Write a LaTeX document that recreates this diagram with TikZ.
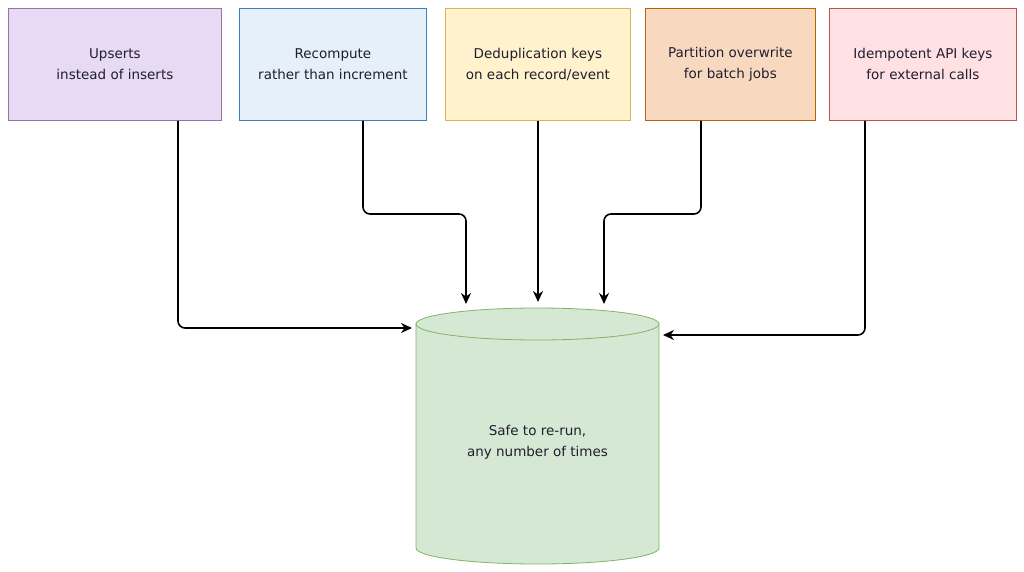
\documentclass[tikz,border=0pt]{standalone}
\usepackage{fontspec}
\setmainfont{DejaVu Sans}
\usetikzlibrary{arrows.meta}
\definecolor{txt}{HTML}{1F1F2E}
\definecolor{d1}{HTML}{9673A6}\definecolor{f1}{HTML}{E8DAF5}
\definecolor{d2}{HTML}{3F7EBF}\definecolor{f2}{HTML}{E6F0FA}
\definecolor{d3}{HTML}{D6B656}\definecolor{f3}{HTML}{FFF2CC}
\definecolor{d4}{HTML}{B46504}\definecolor{f4}{HTML}{F8D9C0}
\definecolor{d5}{HTML}{B85450}\definecolor{f5}{HTML}{FFE0E3}
\definecolor{dc}{HTML}{82B366}\definecolor{fc}{HTML}{D5E8D4}
\begin{document}
\begin{tikzpicture}[x=1pt,y=-1pt,
  box/.style={draw=#1, line width=0.8pt, minimum height=112pt, inner sep=0pt, align=center, font=\fontsize{13.5}{21}\selectfont, text=txt, anchor=north west},
  arr/.style={-{Stealth[length=11pt,width=10pt]}, line width=1.6pt, rounded corners=7pt}]
\useasboundingbox (0,0) rectangle (1024,572);
\node[box=d1, fill=f1, minimum width=213pt] (b1) at (8,8) {Upserts\\instead of inserts};
\node[box=d2, fill=f2, minimum width=187pt] (b2) at (239,8) {Recompute\\rather than increment};
\node[box=d3, fill=f3, minimum width=185pt] (b3) at (445,8) {Deduplication keys\\on each record/event};
\node[box=d4, fill=f4, minimum width=170pt] (b4) at (645,8) {Partition overwrite\\for batch jobs};
\node[box=d5, fill=f5, minimum width=187pt] (b5) at (829,8) {Idempotent API keys\\for external calls};
% cylinder
\draw[draw=dc, fill=fc, line width=0.8pt]
  (416,324) -- (416,548) arc[start angle=180,end angle=360,x radius=121.5,y radius=-16] -- (659,324) -- cycle;
\draw[draw=dc, fill=fc, line width=0.8pt] (537.5,324) ellipse [x radius=121.5, y radius=16];
\node[align=center, font=\fontsize{13.5}{21}\selectfont, text=txt] (c) at (537.5,442) {Safe to re-run,\\any number of times};
\coordinate (e1) at (412,328);
\coordinate (e2) at (466,304);
\coordinate (e3) at (538,302);
\coordinate (e4) at (604,304);
\coordinate (e5) at (663,335);
\draw[arr] (b1.south -| 178,0) |- (e1);
\draw[arr] (b2.south -| 363,0) -- (363,214) -- (466,214) -- (e2);
\draw[arr] (b3.south -| 538,0) -- (e3);
\draw[arr] (b4.south -| 701,0) -- (701,214) -- (604,214) -- (e4);
\draw[arr] (b5.south -| 865,0) |- (e5);
\end{tikzpicture}
\end{document}
